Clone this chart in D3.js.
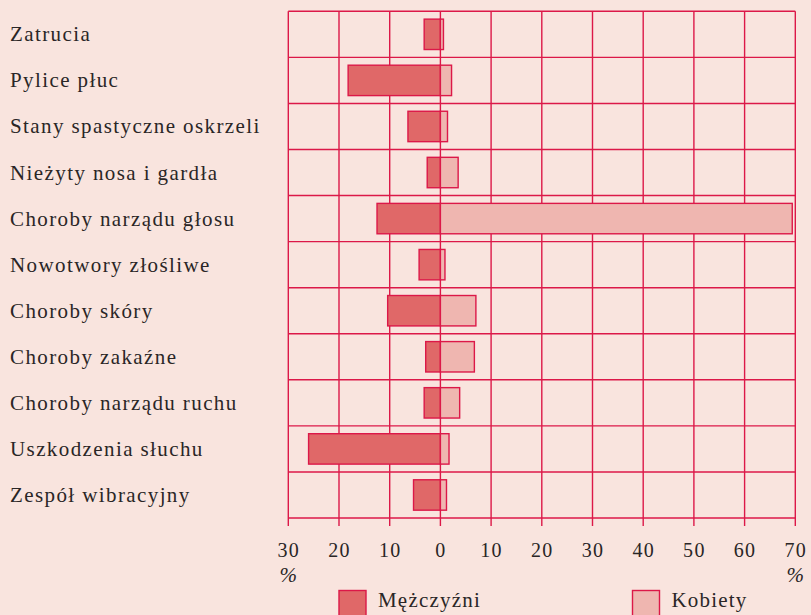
<!DOCTYPE html>
<html>
<head>
<meta charset="utf-8">
<script src="https://cdn.jsdelivr.net/npm/d3@7"></script>
<style>
  body { margin: 0; background: #f9e4de; }
  text { font-family: "Liberation Serif", "Times New Roman", serif; fill: #2a2626; }
</style>
</head>
<body>
<script>
//chart data
var categories = ["Zatrucia", "Pylice płuc", "Stany spastyczne oskrzeli", "Nieżyty nosa i gardła",
  "Choroby narządu głosu", "Nowotwory złośliwe", "Choroby skóry", "Choroby zakaźne",
  "Choroby narządu ruchu", "Uszkodzenia słuchu", "Zespół wibracyjny"];
var men = [3.2, 18.2, 6.4, 2.6, 12.5, 4.2, 10.4, 2.9, 3.2, 26.0, 5.3];
var women = [0.6, 2.2, 1.4, 3.5, 69.4, 0.9, 7.0, 6.7, 3.8, 1.7, 1.2];
var tickValues = [-30, -20, -10, 0, 10, 20, 30, 40, 50, 60, 70];
var seriesNames = ["Mężczyźni", "Kobiety"];

//setting svg dimension
var svgWidth = 811;
var svgHeight = 615;

var grid = "#dc1848";
var menFill = "#e06868";
var womenFill = "#efb6b0";

var svg = d3.select("body")
  .append("svg")
  .attr("width", svgWidth)
  .attr("height", svgHeight);

svg.append("rect")
  .attr("width", svgWidth)
  .attr("height", svgHeight)
  .attr("fill", "#f9e4de");

//scales
var x = d3.scaleLinear()
  .domain([-30, 70])
  .range([288.3, 795.3]);

var y = d3.scaleBand()
  .domain(categories)
  .range([11.3, 518])
  .padding(0);

var bw = y.bandwidth();
var bh = bw * 0.66;

var chart = svg.append("g");

//vertical gridlines with ticks below
chart.selectAll("line.v")
  .data(tickValues)
  .enter()
  .append("line")
  .attr("class", "v")
  .attr("x1", d => x(d))
  .attr("x2", d => x(d))
  .attr("y1", y.range()[0])
  .attr("y2", y.range()[1] + 8)
  .attr("stroke", grid)
  .attr("stroke-width", 1.4);

//horizontal gridlines
var hLines = categories.map(c => y(c)).concat([y.range()[1]]);
chart.selectAll("line.h")
  .data(hLines)
  .enter()
  .append("line")
  .attr("class", "h")
  .attr("x1", x(-30))
  .attr("x2", x(70))
  .attr("y1", d => d)
  .attr("y2", d => d)
  .attr("stroke", grid)
  .attr("stroke-width", 1.4);

//men bars (to the left)
chart.selectAll("rect.men")
  .data(categories)
  .enter()
  .append("rect")
  .attr("class", "men")
  .attr("x", (d, i) => x(-men[i]))
  .attr("y", d => y(d) + (bw - bh) / 2)
  .attr("width", (d, i) => x(0) - x(-men[i]))
  .attr("height", bh)
  .attr("fill", menFill)
  .attr("stroke", grid)
  .attr("stroke-width", 1.4);

//women bars (to the right)
chart.selectAll("rect.women")
  .data(categories)
  .enter()
  .append("rect")
  .attr("class", "women")
  .attr("x", x(0))
  .attr("y", d => y(d) + (bw - bh) / 2)
  .attr("width", (d, i) => x(women[i]) - x(0))
  .attr("height", bh)
  .attr("fill", womenFill)
  .attr("stroke", grid)
  .attr("stroke-width", 1.4);

//category labels
chart.selectAll("text.cat")
  .data(categories)
  .enter()
  .append("text")
  .attr("class", "cat")
  .attr("x", 10)
  .attr("y", d => y(d) + bw / 2 + 7)
  .style("font-size", "21px")
  .style("letter-spacing", "1.4px")
  .text(d => d);

//axis tick labels
chart.selectAll("text.tick")
  .data(tickValues)
  .enter()
  .append("text")
  .attr("class", "tick")
  .attr("x", d => x(d) + 0.5)
  .attr("y", 557)
  .attr("text-anchor", "middle")
  .style("font-size", "20px")
  .style("letter-spacing", "1.3px")
  .text(d => Math.abs(d));

//percent signs under both ends
chart.selectAll("text.pct")
  .data([-30, 70])
  .enter()
  .append("text")
  .attr("class", "pct")
  .attr("x", d => x(d))
  .attr("y", 582)
  .attr("text-anchor", "middle")
  .style("font-size", "21px")
  .style("font-style", "italic")
  .text("%");

//legend
var legend = svg.append("g");
var legendX = [339, 632.5];
var legendFill = [menFill, womenFill];
legend.selectAll("rect")
  .data(seriesNames)
  .enter()
  .append("rect")
  .attr("x", (d, i) => legendX[i])
  .attr("y", 590.5)
  .attr("width", 27)
  .attr("height", 30)
  .attr("fill", (d, i) => legendFill[i])
  .attr("stroke", grid)
  .attr("stroke-width", 1.4);

legend.selectAll("text")
  .data(seriesNames)
  .enter()
  .append("text")
  .attr("x", (d, i) => legendX[i] + 39)
  .attr("y", 607)
  .style("font-size", "21px")
  .style("letter-spacing", "1.2px")
  .text(d => d);
</script>
</body>
</html>
